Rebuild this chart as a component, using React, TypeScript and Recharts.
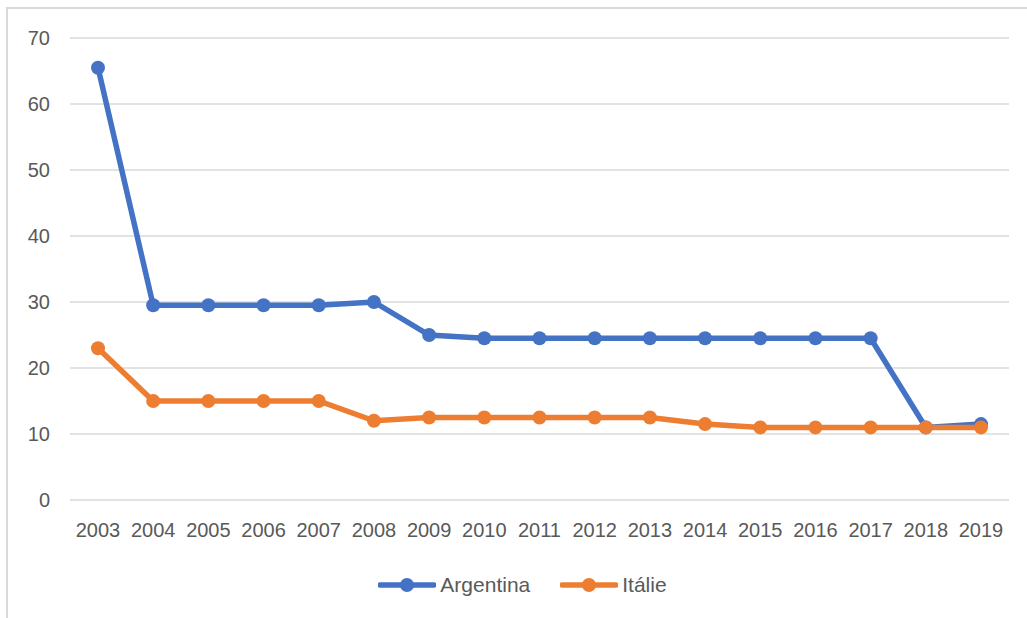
import React from "react";
import {
  LineChart,
  Line,
  XAxis,
  YAxis,
  CartesianGrid,
  Legend,
} from "recharts";

const years = [
  "2003", "2004", "2005", "2006", "2007", "2008", "2009", "2010", "2011",
  "2012", "2013", "2014", "2015", "2016", "2017", "2018", "2019",
];
const argentina = [
  65.5, 29.5, 29.5, 29.5, 29.5, 30, 25, 24.5, 24.5, 24.5, 24.5, 24.5, 24.5,
  24.5, 24.5, 11, 11.5,
];
const italie = [
  23, 15, 15, 15, 15, 12, 12.5, 12.5, 12.5, 12.5, 12.5, 11.5, 11, 11, 11, 11,
  11,
];
const yTicks = [0, 10, 20, 30, 40, 50, 60, 70];

const SERIES = [
  { key: "argentina", name: "Argentina", color: "#4472C4" },
  { key: "italie", name: "Itálie", color: "#ED7D31" },
];

const data = years.map((year, i) => ({
  year,
  argentina: argentina[i],
  italie: italie[i],
}));

const FONT = "'Liberation Sans', Arial, sans-serif";
const TEXT = "#595959";

const LegendContent = () => (
  <div
    style={{
      display: "flex",
      justifyContent: "center",
      gap: 30,
      paddingLeft: 18,
      fontFamily: FONT,
      fontSize: 21,
      color: TEXT,
    }}
  >
    {SERIES.map((s) => (
      <div key={s.key} style={{ display: "flex", alignItems: "center" }}>
        <svg width={58} height={16} style={{ marginRight: 4 }}>
          <line x1={2} y1={8} x2={56} y2={8} stroke={s.color} strokeWidth={5.5} strokeLinecap="round" />
          <circle cx={29} cy={8} r={7} fill={s.color} />
        </svg>
        <span>{s.name}</span>
      </div>
    ))}
  </div>
);

export default function App() {
  return (
    <div
      style={{
        position: "absolute",
        left: 0,
        top: 0,
        width: 1027,
        height: 618,
        overflow: "hidden",
        background: "#fff",
      }}
    >
      <div
        style={{
          position: "absolute",
          left: 6,
          top: 7,
          width: 1200,
          height: 800,
          border: "2px solid #d9d9d9",
        }}
      />
      <div style={{ position: "absolute", left: 0, top: 0 }}>
        <LineChart
          width={1027}
          height={618}
          data={data}
          margin={{ top: 38, right: 18, left: 8, bottom: 78 }}
        >
          <CartesianGrid vertical={false} stroke="#d9d9d9" strokeWidth={1.5} />
          <XAxis
            dataKey="year"
            axisLine={false}
            tickLine={false}
            tickSize={0}
            tickMargin={23}
            height={40}
            interval={0}
            padding={{ left: 28, right: 28 }}
            tick={{ fill: TEXT, fontSize: 20, fontFamily: FONT }}
          />
          <YAxis
            domain={[0, 70]}
            ticks={yTicks}
            axisLine={false}
            tickLine={false}
            tickSize={0}
            tickMargin={20}
            width={62}
            tick={{ fill: TEXT, fontSize: 20, fontFamily: FONT }}
          />
          <Legend
            verticalAlign="middle"
            align="center"
            layout="horizontal"
            wrapperStyle={{ top: 573, left: 0, width: 1027 }}
            content={() => <LegendContent />}
          />
          {SERIES.map((s) => (
            <Line
              key={s.key}
              type="linear"
              dataKey={s.key}
              name={s.name}
              stroke={s.color}
              strokeWidth={5.5}
              dot={{ r: 7, fill: s.color, stroke: s.color, strokeWidth: 0 }}
              isAnimationActive={false}
            />
          ))}
        </LineChart>
      </div>
    </div>
  );
}
